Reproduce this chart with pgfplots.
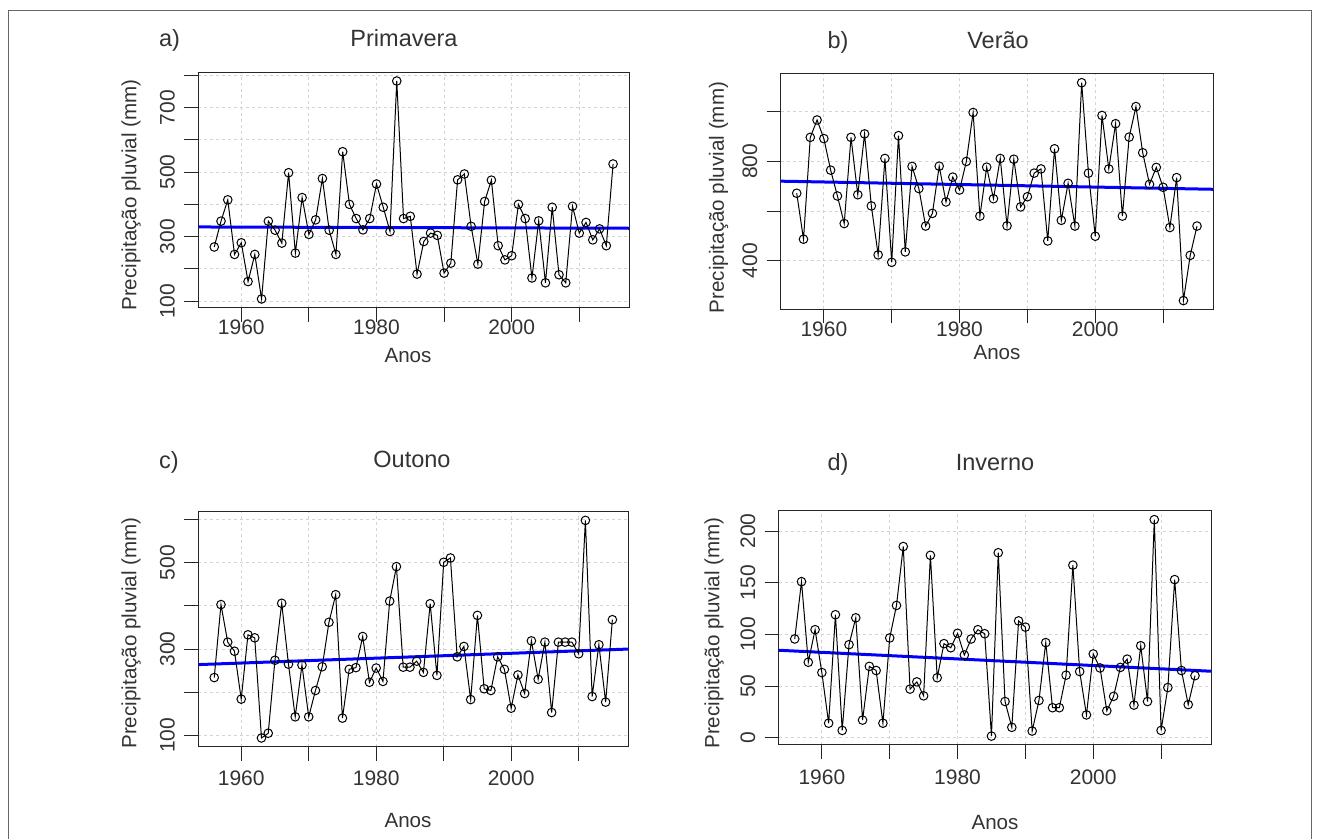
\documentclass[border=0pt]{standalone}
\usepackage{fontspec}
\setmainfont{Liberation Sans}
\usepackage{pgfplots}
\pgfplotsset{compat=1.18}
\definecolor{txt}{HTML}{333333}
\definecolor{gridc}{HTML}{D3D3D3}
\definecolor{rblue}{HTML}{0000FF}

\pgfplotsset{
  rpanel/.style={
    scale only axis,
    anchor=south west,
    xmin=1953.64, xmax=2017.36,
    axis line style={black!85, line width=0.5pt},
    tick align=outside,
    major tick length=7pt,
    tick style={black!85, line width=0.5pt},
    xtick={1960,1970,...,2010},
    xticklabels={1960,,1980,,2000,},
    xtick pos=bottom, ytick pos=left,
    grid=major,
    major grid style={gridc, dash pattern=on 1.5pt off 1.5pt, line width=0.5pt},
    tick label style={font=\fontsize{10.5pt}{12pt}\selectfont, text=txt},
    yticklabel style={xshift=-4.5pt, rotate=90, anchor=south, inner sep=0pt},
    xticklabel style={anchor=north, inner sep=0pt},
  },
  dat/.style={black, line width=0.5pt, mark=o, mark size=2.15pt, mark options={line width=0.5pt, solid}},
  trend/.style={rblue, line width=1.5pt, no marks},
}

\pgfplotstableread{
year a b c d
1956 268 672 234 95.5
1957 348 487 403 151
1958 414 897 316 73
1959 245 967 295 104.5
1960 281 892 184 63
1961 161 765 333 14
1962 245 661 326 119
1963 107 550 94 7
1964 348 897 105 90
1965 320 666 274 116
1966 280 911 406 17
1967 498 621 265 69
1968 249 424 143 65
1969 421 812 263 14
1970 307 394 143 96.5
1971 352 904 204 128
1972 480 436 259 185
1973 320 780 362 47
1974 245 691 426 54
1975 563 540 140 40.5
1976 400 591 253 176.5
1977 356 781 257 58
1978 321 637 329 91
1979 356 737 223 87
1980 463 685 256 101
1981 391 800 225 80
1982 316 997 411 95.5
1983 782 580 491 104.5
1984 356 777 258 100.6
1985 363 650 258 1.5
1986 184 812 272 179
1987 285 541 246 35
1988 311 809 405 10
1989 304 617 239 113
1990 187 658 501 107
1991 218 753 511 6.4
1992 476 770 282 36
1993 494 480 306 92
1994 332 851 183 29
1995 215 563 378 29
1996 409 712 208 60.5
1997 475 540 204 167
1998 272 1117 282 64
1999 228 753 253 22
2000 241 499 163 81
2001 400 985 240 67.5
2002 356 770 197 26
2003 172 952 319 40
2004 349 580 230 68
2005 157 898 316 76
2006 391 1021 153 31.5
2007 182 835 316 89
2008 157 708 316 35
2009 394 776 316 211
2010 311 696 289 7
2011 344 534 598 48.5
2012 290 735 190 153
2013 324 240 310 65
2014 272 422 177 32
2015 525 540 368 60
}\datatable

\begin{document}
\begin{tikzpicture}
\path[use as bounding box] (0,0) rectangle (660pt,419.5pt);
\draw[black!60, line width=0.5pt] (4pt,-5pt) -- (4pt,414pt) -- (655.5pt,414pt) -- (655.5pt,-5pt);

% a) Primavera
\begin{axis}[rpanel, at={(99.15pt,265.65pt)}, width=215.35pt, height=117.7pt,
  ymin=80, ymax=809, ytick={100,200,...,800}, yticklabels={100,,300,,500,,700,},
  xticklabel style={yshift=1pt}]
\addplot[trend] coordinates {(1953.64,330) (2017.36,326)};
\addplot[dat] table[x=year, y=a] {\datatable};
\end{axis}

% b) Verao
\begin{axis}[rpanel, at={(390.35pt,264.85pt)}, width=216.15pt, height=117.65pt,
  ymin=204.9, ymax=1152.1, ytick={400,600,800,1000}, yticklabels={400,,800,},
  xticklabel style={yshift=1pt}]
\addplot[trend] coordinates {(1953.64,720.6) (2017.36,688)};
\addplot[dat] table[x=year, y=b] {\datatable};
\end{axis}

% c) Outono
\begin{axis}[rpanel, at={(99.15pt,46.15pt)}, width=215pt, height=117.5pt,
  ymin=73.8, ymax=618.2, ytick={100,200,...,600}, yticklabels={100,,300,,500,},
  xticklabel style={yshift=-5pt}]
\addplot[trend] coordinates {(1953.64,264) (2017.36,300)};
\addplot[dat] table[x=year, y=c] {\datatable};
\end{axis}

% d) Inverno
\begin{axis}[rpanel, at={(389.35pt,47pt)}, width=216.15pt, height=117pt,
  ymin=-7.1, ymax=219.4, ytick={0,50,...,200}, yticklabels={0,50,100,150,200},
  xticklabel style={yshift=-5pt}]
\addplot[trend] coordinates {(1953.64,84.6) (2017.36,64.3)};
\addplot[dat] table[x=year, y=d] {\datatable};
\end{axis}

% titles
\begin{scope}[every node/.style={text=txt, inner sep=0pt, font=\fontsize{11.75pt}{14pt}\selectfont, anchor=base}]
\node at (84.75pt,396.15pt) {a)};
\node at (202pt,396.15pt) {Primavera};
\node at (419pt,395.35pt) {b)};
\node at (499pt,395.35pt) {Verão};
\node at (84.5pt,185pt) {c)};
\node at (206pt,185.5pt) {Outono};
\node at (419pt,184pt) {d)};
\node at (497.5pt,184pt) {Inverno};
\end{scope}
% axis labels
\begin{scope}[every node/.style={text=txt, inner sep=0pt, font=\fontsize{10.3pt}{12pt}\selectfont}]
\node[anchor=base] at (204pt,238.25pt) {Anos};
\node[anchor=base] at (498.5pt,239.75pt) {Anos};
\node[anchor=base] at (204pt,5.75pt) {Anos};
\node[anchor=base] at (497.5pt,4.75pt) {Anos};
\node[rotate=90] at (65.5pt,322pt) {Precipitação pluvial (mm)};
\node[rotate=90] at (359.25pt,320.75pt) {Precipitação pluvial (mm)};
\node[rotate=90] at (65.5pt,103pt) {Precipitação pluvial (mm)};
\node[rotate=90] at (357pt,103pt) {Precipitação pluvial (mm)};
\end{scope}
\end{tikzpicture}
\end{document}
